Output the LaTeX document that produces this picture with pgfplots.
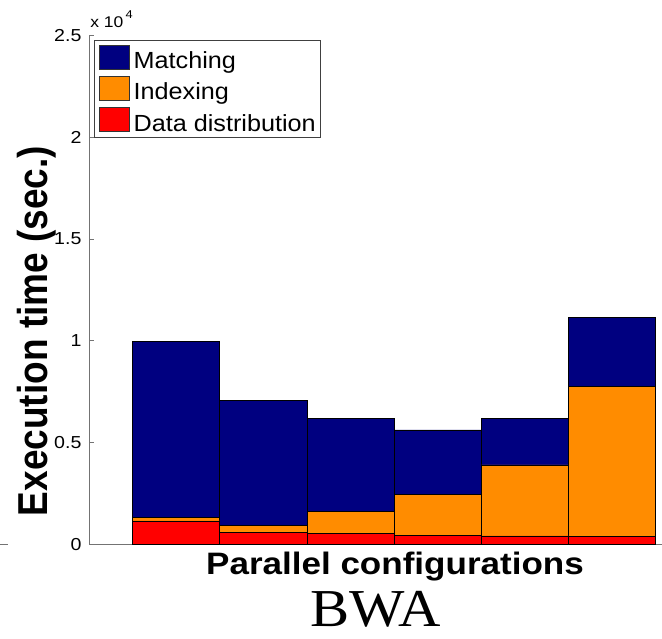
\documentclass[border=0pt]{standalone}
\usepackage{graphicx}
\usepackage{pgfplots}
\usepackage{pgfplotstable}
\pgfplotsset{compat=1.18}
\usepackage{fontspec}
\setmainfont{Liberation Sans}
\newfontfamily\titleserif{Liberation Serif}

\definecolor{matchblue}{RGB}{0,0,128}
\definecolor{idxorange}{RGB}{255,140,0}
\definecolor{distred}{RGB}{255,0,0}
\definecolor{spine}{gray}{0.45}

% slightly widened glyphs, as in the exported figure
\newcommand{\sx}[1]{\scalebox{1.13}[1]{#1}}

% execution time per phase (seconds), one row per parallel configuration
\pgfplotstableread{
cfg dist index match
1   1150  190  8630
2    590  343  6120
3    520 1116  4534
4    440 2000  3180
5    410 3490  2280
6    375 7400  3390
}\bwa

\begin{document}
\begin{tikzpicture}
\path[use as bounding box] (0,0) rectangle (496.5pt,479.25pt);
\begin{axis}[
  at={(66.75pt,71.0pt)}, anchor=south west,
  scale only axis, width=429.75pt, height=381.75pt,
  xmin=0, xmax=6.571, ymin=0, ymax=25000,
  axis x line*=bottom, axis y line*=left,
  axis line style={-, draw=spine, line width=0.6pt},
  xtick=\empty,
  ytick={0,5000,10000,15000,20000,25000},
  yticklabels={\sx{0},\sx{0.5},\sx{1},\sx{1.5},\sx{2},\sx{2.5}},
  scaled y ticks=false,
  tick align=inside, major tick length=3.75pt,
  tick style={draw=spine, line width=0.6pt},
  yticklabel style={font=\fontsize{13}{13}\selectfont, inner sep=0pt, xshift=-5.5pt},
  ybar stacked, bar width=1, bar shift=0pt,
  reverse legend,
  legend cell align=left,
  legend image code/.code={\draw[#1, draw=black!80, line width=0.5pt] (0pt,-6pt) rectangle (22.5pt,12pt);},
  legend style={at={(0.0087,0.9908)}, anchor=north west,
    draw=black!75, line width=0.5pt, inner sep=3.5pt,
    row sep=4pt, column sep=3pt,
    font=\fontsize{17.5}{17.5}\selectfont,
    nodes={inner sep=0pt}},
]
\addplot[fill=distred, draw=black, line width=0.6pt] table[x=cfg, y=dist]{\bwa};
\addlegendentry{\scalebox{1.08}[1]{Data distribution}}
\addplot[fill=idxorange, draw=black, line width=0.6pt] table[x=cfg, y=index]{\bwa};
\addlegendentry{\scalebox{1.08}[1]{Indexing}}
\addplot[fill=matchblue, draw=black, line width=0.6pt] table[x=cfg, y=match]{\bwa};
\addlegendentry{\scalebox{1.08}[1]{Matching}}
\end{axis}

% exponent of the y tick labels
\node[anchor=base west, inner sep=0pt] at (67.5pt,458.25pt)
  {\sx{\fontsize{11.6}{12}\selectfont x 10\hspace{1.5pt}\raisebox{0.6em}{\fontsize{8.5}{9}\selectfont 4}}};

% axis titles
\node[rotate=90, inner sep=0pt] at (27.75pt,231pt)
  {\scalebox{1}[1.13]{\bfseries\fontsize{27.75}{30}\selectfont Execution time (sec.)}};
\node[anchor=base, inner sep=0pt] at (296.25pt,48.0pt)
  {\sx{\bfseries\fontsize{23.25}{25}\selectfont Parallel configurations}};
\node[anchor=base, inner sep=0pt] at (281.8pt,9.2pt)
  {\scalebox{1.1}[1]{\titleserif\fontsize{40}{42}\selectfont BWA}};

% edge of the neighbouring panel's baseline
\draw[spine, line width=0.6pt] (0pt,71.0pt) -- (6pt,71.0pt);
\end{tikzpicture}
\end{document}
